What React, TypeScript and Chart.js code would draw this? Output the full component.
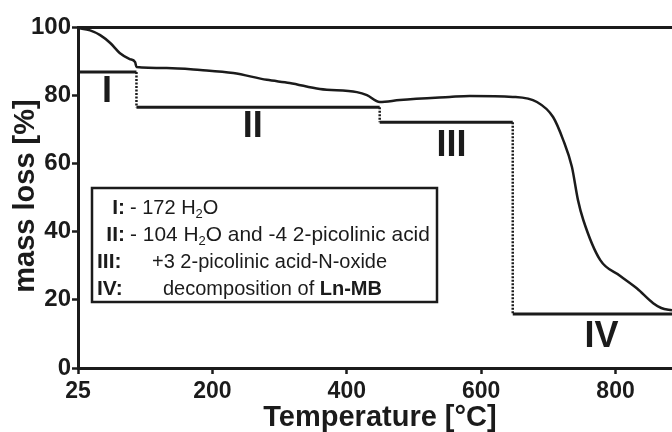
import React, { useEffect, useRef } from 'react';
import { Chart, registerables } from 'chart.js';

Chart.register(...registerables);

// ---- data ----
const temperature = [0, 18, 33, 48, 62, 77, 85, 87, 132, 182, 231, 281, 315, 360, 415, 430, 449, 479, 553, 583, 647, 683, 707, 722, 735, 744, 752, 777, 807, 832, 856, 868, 884];
const massLoss = [99.7, 99, 97.6, 95.3, 92.4, 90.6, 89.7, 88.3, 88, 87.4, 86.5, 84.5, 83.6, 81.8, 80.9, 80, 78, 78.6, 79.5, 79.8, 79.5, 78, 73.6, 66.9, 59, 49.3, 43.4, 31.7, 27.0, 23.3, 19.0, 17.6, 16.9];

const stepBounds = [0, 87, 449, 647, 884];
const stepLevels = [86.8, 76.5, 72.1, 15.8];
const stepNames = ['I', 'II', 'III', 'IV'];

const xTickValues = [0, 200, 400, 600, 800];
const xTickLabels = ['25', '200', '400', '600', '800'];

const legendKeys = ['I:', 'II:', 'III:', 'IV:'];
const legendTexts = [
  [{ t: '- 172 H' }, { t: '2', sub: true }, { t: 'O' }],
  [{ t: '- 104 H' }, { t: '2', sub: true }, { t: 'O and -4 2-picolinic acid' }],
  [{ t: '+3 2-picolinic acid-N-oxide' }],
  [{ t: 'decomposition of ' }, { t: 'Ln-MB', bold: true }],
];

const xTitle = 'Temperature [°C]';
const yTitle = 'mass loss [%]';

// ---- layout / style (not data) ----
const INK = '#1b1b1b';
const FONT = '"Liberation Sans", Arial, Helvetica, sans-serif';
const numeralAnchors = [
  [43, 81],
  [260, 70.7],
  [556, 65.1],
  [779, 9.1],
];
const legendFontSizes = [20, 20.9, 20, 20];

const annotate = {
  id: 'annotate',
  afterDraw(chart: any) {
    const { ctx, scales } = chart;
    const x = scales.x;
    const y = scales.y;
    ctx.save();
    ctx.fillStyle = INK;
    ctx.strokeStyle = INK;

    // roman numerals for the steps
    ctx.font = `bold 36px ${FONT}`;
    ctx.textAlign = 'center';
    ctx.textBaseline = 'middle';
    stepNames.forEach((n, i) => {
      const [ax, ay] = numeralAnchors[i];
      ctx.fillText(n, x.getPixelForValue(ax), y.getPixelForValue(ay));
    });

    // legend box
    ctx.lineWidth = 2.5;
    ctx.strokeRect(92, 188, 345, 114);
    const rowsY = [214, 241, 268, 295];
    const keyAlign: any[] = [
      ['right', 125],
      ['right', 125],
      ['left', 97],
      ['left', 97],
    ];
    const textStart = [130, 130, 152, 163];
    ctx.textBaseline = 'alphabetic';
    legendKeys.forEach((k, i) => {
      ctx.font = `bold 21px ${FONT}`;
      ctx.textAlign = keyAlign[i][0];
      ctx.fillText(k, keyAlign[i][1], rowsY[i]);
      ctx.textAlign = 'left';
      let cx = textStart[i];
      const fs = legendFontSizes[i];
      legendTexts[i].forEach((seg: any) => {
        if (seg.sub) {
          ctx.font = `13px ${FONT}`;
          ctx.fillText(seg.t, cx, rowsY[i] + 4);
        } else {
          ctx.font = `${seg.bold ? 'bold ' : ''}${fs}px ${FONT}`;
          ctx.fillText(seg.t, cx, rowsY[i]);
        }
        cx += ctx.measureText(seg.t).width;
      });
    });

    // axis titles
    ctx.font = `bold 29px ${FONT}`;
    ctx.textAlign = 'center';
    ctx.textBaseline = 'alphabetic';
    ctx.fillText(xTitle, 380, 426);
    ctx.save();
    ctx.translate(34, 196);
    ctx.rotate(-Math.PI / 2);
    ctx.fillText(yTitle, 0, 0);
    ctx.restore();

    ctx.restore();
  },
};

function buildDatasets() {
  const ds: any[] = [
    {
      label: 'TGA',
      data: temperature.map((t, i) => ({ x: t, y: massLoss[i] })),
      borderColor: INK,
      borderWidth: 2.5,
      pointRadius: 0,
      cubicInterpolationMode: 'monotone',
      fill: false,
    },
  ];
  stepLevels.forEach((lvl, i) => {
    ds.push({
      label: 'step ' + stepNames[i],
      data: [
        { x: stepBounds[i], y: lvl },
        { x: stepBounds[i + 1], y: lvl },
      ],
      borderColor: INK,
      borderWidth: 3,
      pointRadius: 0,
      tension: 0,
      fill: false,
    });
    if (i < stepLevels.length - 1) {
      ds.push({
        label: 'drop ' + stepNames[i],
        data: [
          { x: stepBounds[i + 1], y: lvl },
          { x: stepBounds[i + 1], y: stepLevels[i + 1] },
        ],
        borderColor: INK,
        borderWidth: 2.5,
        borderDash: [2, 1.5],
        pointRadius: 0,
        tension: 0,
        fill: false,
      });
    }
  });
  return ds;
}

export default function App() {
  const ref = useRef<HTMLCanvasElement | null>(null);
  useEffect(() => {
    if (!ref.current) return;
    const chart = new Chart(ref.current, {
      type: 'line',
      data: { datasets: buildDatasets() },
      options: {
        animation: false,
        responsive: false,
        devicePixelRatio: 1,
        layout: { padding: { top: 27, left: 0, right: 0, bottom: 0 } },
        plugins: { legend: { display: false }, tooltip: { enabled: false } },
        scales: {
          x: {
            type: 'linear',
            min: 0,
            max: 884,
            afterFit: (s: any) => {
              s.height = 64;
            },
            afterBuildTicks: (s: any) => {
              s.ticks = xTickValues.map((v) => ({ value: v }));
            },
            ticks: {
              color: INK,
              font: { family: FONT, size: 23, weight: 'bold' },
              padding: 4,
              maxRotation: 0,
              callback: (v: any) => {
                const i = xTickValues.indexOf(Number(v));
                return i >= 0 ? xTickLabels[i] : '';
              },
            },
            grid: {
              drawOnChartArea: false,
              drawTicks: true,
              tickLength: 6,
              tickWidth: 2.5,
              tickColor: INK,
            },
            border: { display: true, color: INK, width: 3 },
          },
          y: {
            type: 'linear',
            min: 0,
            max: 100,
            afterFit: (s: any) => {
              s.width = 78;
            },
            ticks: {
              stepSize: 20,
              color: INK,
              font: { family: FONT, size: 24, weight: 'bold' },
              padding: 1,
            },
            grid: {
              drawOnChartArea: true,
              drawTicks: true,
              tickLength: 6,
              tickWidth: 2.5,
              tickColor: INK,
              lineWidth: 3,
              color: (c: any) => (c.tick && c.tick.value === 100 ? INK : 'rgba(0,0,0,0)'),
            },
            border: { display: true, color: INK, width: 3 },
          },
        },
      },
      plugins: [annotate],
    } as any);
    return () => chart.destroy();
  }, []);
  return (
    <div style={{ position: 'absolute', left: 0, top: 0, width: 672, height: 432, background: '#fff' }}>
      <canvas ref={ref} width={672} height={432} style={{ display: 'block' }} />
    </div>
  );
}
